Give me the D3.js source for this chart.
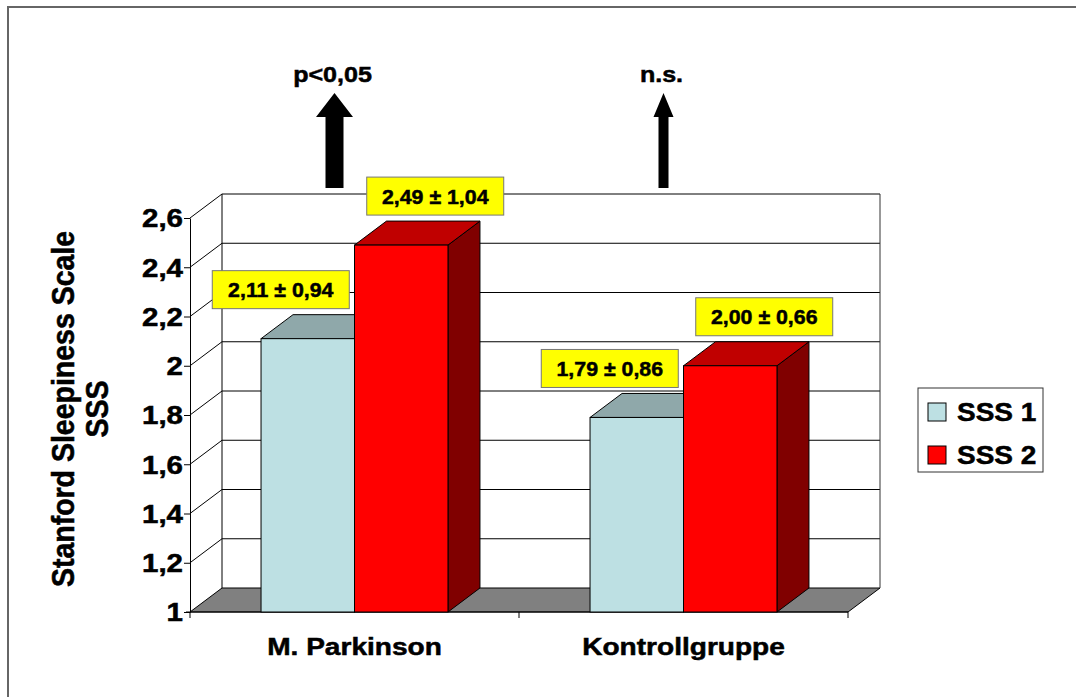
<!DOCTYPE html>
<html>
<head>
<meta charset="utf-8">
<script src="https://cdn.jsdelivr.net/npm/d3@7"></script>
<style>
  body { margin: 0; background: #fff; }
  text { font-family: "Liberation Sans", Arial, sans-serif; font-weight: bold; fill: #000; stroke: #000; stroke-width: 0.5px; }
</style>
</head>
<body>
<script>
// data
const categories = ["M. Parkinson", "Kontrollgruppe"];
const series = ["SSS 1", "SSS 2"];
const sss1 = [2.11, 1.79];
const sss2 = [2.49, 2.00];
const sss1Sd = [0.94, 0.86];
const sss2Sd = [1.04, 0.66];
const sigLabels = ["p<0,05", "n.s."];
const significant = [true, false];
const yTicks = [1, 1.2, 1.4, 1.6, 1.8, 2, 2.2, 2.4, 2.6];
const yTitle = ["Stanford Sleepiness Scale", "SSS"];

const W = 1076, H = 697;
const depthX = 32, depthY = 24;
const sx = 1.16; // the original picture is stretched sideways

const svg = d3.select("body").append("svg")
  .attr("width", W).attr("height", H);

// outer frame (only top and left visible)
svg.append("path")
  .attr("d", `M8,${H} V7 H${W}`)
  .attr("fill", "none").attr("stroke", "#666").attr("stroke-width", 2);

const y = d3.scaleLinear().domain([1, 2.6]).range([612, 218]);
const x0 = d3.scaleBand().domain(categories).range([190, 848]).padding(0);
const x1 = d3.scaleBand().domain(series).range([0, x0.bandwidth()])
  .paddingInner(0).paddingOuter(0.76);

const fmt = d => String(d).replace(".", ",");
const xL = x0.range()[0], xR = x0.range()[1];
const yB = y(1);

const fmt2 = d => d.toFixed(2).replace(".", ",");

function stext(g, str, cx, cy, size, anchor, scale) {
  return g.append("text")
    .attr("transform", `translate(${cx},${cy}) scale(${scale || sx},1)`)
    .attr("text-anchor", anchor || "middle")
    .attr("font-size", size)
    .text(str);
}

// walls
const walls = svg.append("g");
walls.append("path")
  .attr("d", `M${xL},${yB} L${xL + depthX},${yB - depthY} L${xR + depthX},${yB - depthY} L${xR},${yB} Z`)
  .attr("fill", "#808080").attr("stroke", "#000").attr("stroke-width", 1);

yTicks.filter(v => v > 1).forEach(v => {
  walls.append("path")
    .attr("d", `M${xL},${y(v)} L${xL + depthX},${y(v) - depthY} H${xR + depthX}`)
    .attr("fill", "none").attr("stroke", "#000").attr("stroke-width", 1);
});
walls.append("line")
  .attr("x1", xL + depthX).attr("x2", xL + depthX)
  .attr("y1", y(2.6) - depthY).attr("y2", yB - depthY)
  .attr("stroke", "#000");
walls.append("line")
  .attr("x1", xR + depthX).attr("x2", xR + depthX)
  .attr("y1", y(2.6) - depthY).attr("y2", yB - depthY)
  .attr("stroke", "#333");

// y axis
const yAxis = svg.append("g")
  .attr("transform", `translate(${xL},0)`)
  .call(d3.axisLeft(y).tickValues(yTicks).tickFormat(fmt).tickSize(6).tickSizeOuter(0));
yAxis.select(".domain").attr("stroke", "#000");
yAxis.selectAll(".tick line").attr("stroke", "#000");
yAxis.selectAll(".tick text")
  .attr("x", 0)
  .attr("dy", "0.35em")
  .attr("transform", `translate(-7,0) scale(1.18,1)`)
  .attr("font-size", 25)
  .attr("font-family", "'Liberation Sans', Arial, sans-serif")
  .attr("fill", "#000");

// x axis
svg.append("line")
  .attr("x1", xL - 4).attr("x2", xR).attr("y1", yB).attr("y2", yB)
  .attr("stroke", "#000");
const bounds = categories.map(c => x0(c)).concat([xR]);
svg.selectAll(".xtick").data(bounds).enter().append("line")
  .attr("x1", d => d).attr("x2", d => d)
  .attr("y1", yB).attr("y2", yB + 6)
  .attr("stroke", "#000");
categories.forEach(c => {
  stext(svg, c, x0(c) + x0.bandwidth() / 2, 655, 24, "middle", 1.17);
});

// bars
const colors = {
  "SSS 1": { front: "#BDE0E3", top: "#8FA8AA", side: "#7E9A9C" },
  "SSS 2": { front: "#FF0000", top: "#C00000", side: "#800000" }
};
const values = { "SSS 1": sss1, "SSS 2": sss2 };
const sds = { "SSS 1": sss1Sd, "SSS 2": sss2Sd };

const bars = svg.append("g");
categories.forEach((c, i) => {
  series.forEach(s => {
    const v = values[s][i];
    const bx = x0(c) + x1(s), bw = x1.bandwidth(), by = y(v);
    const col = colors[s];
    bars.append("path")
      .attr("d", `M${bx + bw},${by} L${bx + bw + depthX},${by - depthY} V${yB - depthY} L${bx + bw},${yB} Z`)
      .attr("fill", col.side).attr("stroke", "#000").attr("stroke-width", 1);
    bars.append("path")
      .attr("d", `M${bx},${by} L${bx + depthX},${by - depthY} H${bx + bw + depthX} L${bx + bw},${by} Z`)
      .attr("fill", col.top).attr("stroke", "#000").attr("stroke-width", 1);
    bars.append("rect")
      .attr("x", bx).attr("y", by).attr("width", bw).attr("height", yB - by)
      .attr("fill", col.front).attr("stroke", "#000").attr("stroke-width", 1);
  });
});

// value labels
const labels = svg.append("g");
categories.forEach((c, i) => {
  series.forEach((s, j) => {
    const v = values[s][i];
    const cx = x0(c) + x1(s) + x1.bandwidth() / 2 + (j === 0 ? -27 : 34);
    const bottom = y(v) - depthY - 6;
    const bw = 137, bh = 38;
    labels.append("rect")
      .attr("x", cx - bw / 2).attr("y", bottom - bh)
      .attr("width", bw).attr("height", bh)
      .attr("fill", "#FFFF00").attr("stroke", "#777").attr("stroke-width", 1);
    stext(labels, fmt2(v) + " \u00B1 " + fmt2(sds[s][i]), cx, bottom - bh / 2 + 7.5, 20.5, "middle", 1.04);
  });
});

// significance arrows
categories.forEach((c, i) => {
  const cx = x0(c) + x0.bandwidth() / 2 - 20;
  const sw = significant[i] ? 9 : 5, hw = significant[i] ? 18.5 : 10;
  svg.append("path")
    .attr("d", `M${cx - sw},188 V117 H${cx - hw} L${cx},93 L${cx + hw},117 H${cx + sw} V188 Z`)
    .attr("fill", "#000");
  stext(svg, sigLabels[i], cx - 2, 82, 22, "middle", 1.14);
});

// y title
yTitle.forEach((t, i) => {
  svg.append("text")
    .attr("transform", `translate(${63 + i * 34},409) scale(1.1,1) rotate(-90)`)
    .attr("text-anchor", "middle")
    .attr("dy", "0.35em")
    .attr("font-size", 28.5)
    .text(t);
});

// legend
const legend = svg.append("g");
legend.append("rect")
  .attr("x", 918).attr("y", 388).attr("width", 125).attr("height", 84)
  .attr("fill", "#fff").attr("stroke", "#333").attr("stroke-width", 1);
series.forEach((s, i) => {
  const ly = 412 + i * 43;
  legend.append("rect")
    .attr("x", 928).attr("y", ly - 9).attr("width", 18).attr("height", 18)
    .attr("fill", colors[s].front).attr("stroke", "#000");
  stext(legend, s, 957, ly + 9, 25, "start", 1.12);
});
</script>
</body>
</html>
